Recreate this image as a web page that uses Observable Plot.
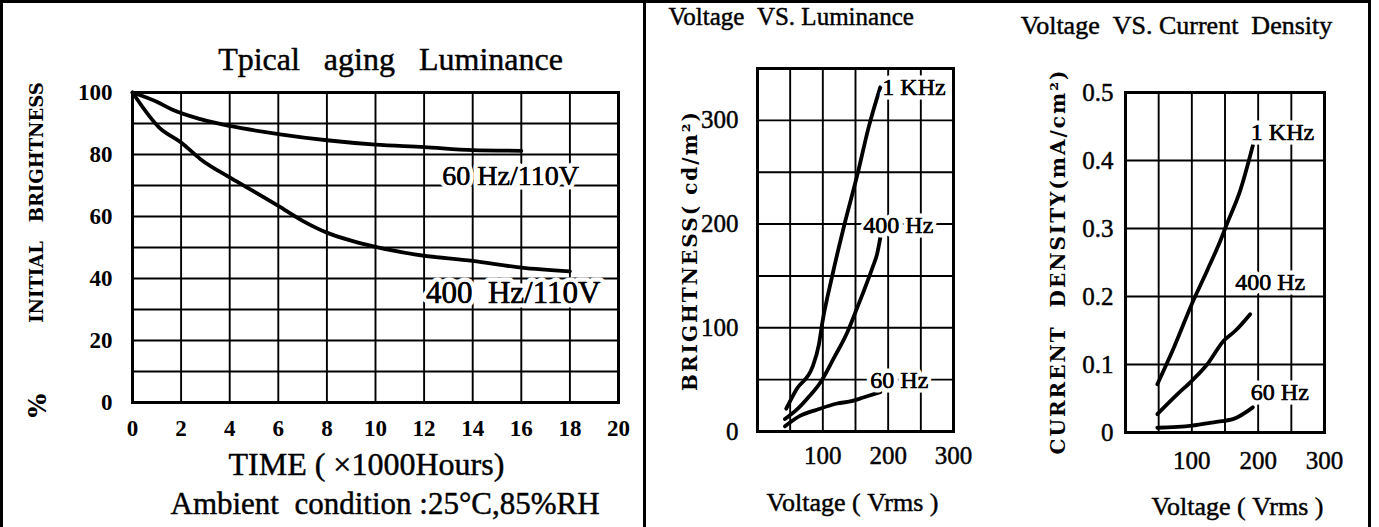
<!DOCTYPE html>
<html><head><meta charset="utf-8">
<script src="https://cdn.jsdelivr.net/npm/d3@7"></script>
<script src="https://cdn.jsdelivr.net/npm/@observablehq/plot@0.6"></script>
<style>
html,body{margin:0;padding:0;background:#fff;}
#root{position:relative;width:1379px;height:527px;overflow:hidden;background:#fff;}
#root svg{position:absolute;top:0;overflow:visible;}
.border{position:absolute;left:0;top:0;width:1371px;height:540px;border:3px solid #000;box-sizing:border-box;}
.divider{position:absolute;left:643px;top:0;width:3px;height:527px;background:#000;}
</style></head><body>
<div id="root"><div class="border"></div><div class="divider"></div></div>
<script>
// ---------- Panel 1: Typical aging luminance ----------
const agingTimeTicks = [0, 2, 4, 6, 8, 10, 12, 14, 16, 18, 20];
const agingBrightTicks = [0, 20, 40, 60, 80, 100];
const aging60Hz = [[0,100],[1,97],[1.6,94.6],[2.8,91.4],[4,89.2],[6,86.6],[8,84.6],[10,83.2],[12,82.4],[14,81.4],[16,81.2]];
const aging400Hz = [[0,100],[1.1,88.7],[2,83.9],[2.8,78.5],[4,72.6],[4.7,69.4],[6,63.4],[7,58.6],[8,54.8],[9,52.2],[10,50.2],[11.6,47.8],[14,45.7],[16,43.5],[18,42.3]];
const agingLabels = ["60\u00a0Hz/110V", "400\u00a0\u00a0Hz/110V"];

// ---------- Panel 2: Voltage vs Luminance ----------
const voltTicks = [100, 200, 300];
const lumTicks = [0, 100, 200, 300];
const lum1kHz = [[44,22],[60,41],[84,62],[94,84],[99,104],[114,149],[132,197],[153,248],[170,293],[188,332]];
const lum400Hz = [[42,12],[60,21],[78,33],[96,47],[117,71],[137,95],[153,120],[163,136],[176,158],[183,171],[188,187]];
const lum60Hz = [[42,5],[65,15],[91,21],[122,27],[142,29],[163,33],[188,38]];

// ---------- Panel 3: Voltage vs Current density ----------
const cdTicks = [0, 0.1, 0.2, 0.3, 0.4, 0.5];
const cd1kHz = [[48,0.071],[73,0.125],[100,0.189],[123,0.238],[143,0.282],[153,0.307],[173,0.356],[192,0.422]];
const cd400Hz = [[48,0.027],[78,0.056],[100,0.076],[123,0.1],[148,0.135],[166,0.15],[188,0.174]];
const cd60Hz = [[48,0.007],[100,0.01],[133,0.015],[163,0.02],[192,0.037]];
const freqLabels = ["1 KHz", "400 Hz", "60 Hz"];

const SERIF = "'Liberation Serif', 'Times New Roman', serif";
const SLAB = "'DejaVu Serif', serif";
const ink = "#000";
const heavy = {fill: ink, stroke: ink, strokeWidth: 0.45};
const halo = {fill: ink, stroke: "#fff", strokeWidth: 9, strokeLinejoin: "round"};

function note(str, dx, dy, o = {}) {
  return Plot.text([str], {text: d => d, frameAnchor: "top-left", lineAnchor: "middle", dx, dy, fontFamily: SERIF, ...o});
}
const xy = {x: d => d[0], y: d => d[1]};
const curve = (data) => Plot.line(data, {...xy, stroke: ink, strokeWidth: 3.8, curve: "monotone-x"});
const gridStyle = {stroke: ink, strokeOpacity: 1, strokeWidth: 1.9};
function endLabel(series, str, dx, dy, o) {
  const last = [series[series.length - 1]];
  return [
    Plot.text(last, {...xy, text: () => str, dx, dy, textAnchor: "start", lineAnchor: "middle", fontFamily: SERIF, ...o, ...halo}),
    Plot.text(last, {...xy, text: () => str, dx, dy, textAnchor: "start", lineAnchor: "middle", fontFamily: SERIF, ...o, ...heavy})
  ];
}

const root = document.getElementById("root");
function place(svg, left) { svg.style.left = left + "px"; root.appendChild(svg); return svg; }
function spacing(svg, str, ls) {
  svg.querySelectorAll("text").forEach(t => { if (t.textContent === str) t.setAttribute("letter-spacing", ls); });
}
const baseStyle = {background: "transparent", overflow: "visible", fontFamily: SERIF};

// Panel 1
const p1 = Plot.plot({
  width: 645, height: 527, marginLeft: 132, marginRight: 27, marginTop: 92, marginBottom: 125,
  x: {domain: [0, 20], axis: null}, y: {domain: [0, 100], axis: null},
  style: baseStyle,
  marks: [
    Plot.gridX(agingTimeTicks, gridStyle),
    Plot.gridY(d3.range(0, 101, 10), gridStyle),
    Plot.frame({stroke: ink, strokeWidth: 3}),
    curve(aging60Hz),
    curve(aging400Hz),
    ...endLabel(aging60Hz, agingLabels[0], -79, 25, {fontSize: 28}),
    ...endLabel(aging400Hz, agingLabels[1], -144, 22, {fontSize: 31}),
    Plot.text(agingTimeTicks, {x: d => d, frameAnchor: "bottom", lineAnchor: "middle", dy: 26, text: d => String(d), fontSize: 23, fontWeight: "bold", fontFamily: SERIF}),
    Plot.text(agingBrightTicks, {y: d => d, frameAnchor: "left", lineAnchor: "middle", dx: -20, textAnchor: "end", text: d => String(d), fontSize: 23, fontWeight: "bold", fontFamily: SERIF}),
    note("Tpical\u00a0\u00a0\u00a0aging\u00a0\u00a0\u00a0Luminance", 258, -33, {fontSize: 32, textAnchor: "middle", ...heavy}),
    note("INITIAL\u00a0\u00a0\u00a0BRIGHTNESS", -95, 110, {rotate: -90, fontSize: 18, fontWeight: "bold", fontFamily: SLAB, textAnchor: "middle"}),
    note("%", -95, 313, {rotate: -90, fontSize: 25, fontWeight: "bold", fontFamily: SLAB, textAnchor: "middle"}),
    note("TIME\u00a0(\u00a0\u00d71000Hours)", 96, 372, {fontSize: 32, textAnchor: "start", ...heavy}),
    note("Ambient\u00a0\u00a0condition\u00a0:25\u00b0C,85%RH", 38, 412, {fontSize: 31, textAnchor: "start", ...heavy})
  ]
});
place(p1, 0);

// Panel 2
const p2 = Plot.plot({
  width: 370, height: 527, marginLeft: 112, marginRight: 62, marginTop: 68, marginBottom: 96,
  x: {domain: [0, 300], axis: null}, y: {domain: [0, 350], axis: null},
  style: baseStyle,
  marks: [
    Plot.gridX(d3.range(0, 301, 50), gridStyle),
    Plot.gridY(d3.range(0, 351, 50), gridStyle),
    Plot.frame({stroke: ink, strokeWidth: 3}),
    curve(lum1kHz), curve(lum400Hz), curve(lum60Hz),
    ...endLabel(lum1kHz, freqLabels[0], 2, 0, {fontSize: 24}),
    ...endLabel(lum400Hz, freqLabels[1], -17, -12, {fontSize: 24}),
    ...endLabel(lum60Hz, freqLabels[2], -10, -12, {fontSize: 24}),
    Plot.text(voltTicks, {x: d => d, frameAnchor: "bottom", lineAnchor: "middle", dy: 24, text: d => String(d), fontSize: 25, fontFamily: SERIF, ...heavy}),
    Plot.text(lumTicks, {y: d => d, frameAnchor: "left", lineAnchor: "middle", dx: -19, textAnchor: "end", text: d => String(d), fontSize: 25, fontFamily: SERIF, ...heavy}),
    note("Voltage\u00a0\u00a0VS.\u00a0Luminance", -89, -52, {fontSize: 25, textAnchor: "start", ...heavy}),
    note("BRIGHTNESS(\u00a0cd/m\u00b2)", -67, 182, {rotate: -90, fontSize: 20, fontWeight: "bold", fontFamily: SLAB, textAnchor: "middle"}),
    note("Voltage\u00a0(\u00a0Vrms\u00a0)", 95, 434, {fontSize: 26, textAnchor: "middle", ...heavy})
  ]
});
place(p2, 645);
spacing(p2, "BRIGHTNESS(\u00a0cd/m\u00b2)", 2);

// Panel 3
const p3 = Plot.plot({
  width: 364, height: 527, marginLeft: 110, marginRight: 55, marginTop: 92, marginBottom: 95,
  x: {domain: [0, 300], axis: null}, y: {domain: [0, 0.5], axis: null},
  style: baseStyle,
  marks: [
    Plot.gridX(d3.range(0, 301, 50), gridStyle),
    Plot.gridY(cdTicks, gridStyle),
    Plot.frame({stroke: ink, strokeWidth: 3}),
    curve(cd1kHz), curve(cd400Hz), curve(cd60Hz),
    ...endLabel(cd1kHz, freqLabels[0], -2, -13, {fontSize: 24}),
    ...endLabel(cd400Hz, freqLabels[1], -15, -32, {fontSize: 24}),
    ...endLabel(cd60Hz, freqLabels[2], -2, -15, {fontSize: 24}),
    Plot.text(voltTicks, {x: d => d, frameAnchor: "bottom", lineAnchor: "middle", dy: 28, text: d => String(d), fontSize: 25, fontFamily: SERIF, ...heavy}),
    Plot.text(cdTicks, {y: d => d, frameAnchor: "left", lineAnchor: "middle", dx: -12, textAnchor: "end", text: d => d === 0 ? "0" : d.toFixed(1), fontSize: 25, fontFamily: SERIF, ...heavy}),
    note("Voltage\u00a0\u00a0VS.\u00a0Current\u00a0\u00a0Density", 51, -67, {fontSize: 26, textAnchor: "middle", ...heavy}),
    note("CURRENT\u00a0\u00a0DENSITY(mA/cm\u00b2)", -67, 169, {rotate: -90, fontSize: 20, fontWeight: "bold", fontFamily: SLAB, textAnchor: "middle"}),
    note("Voltage\u00a0(\u00a0Vrms\u00a0)", 112, 414, {fontSize: 26, textAnchor: "middle", ...heavy})
  ]
});
place(p3, 1015);
spacing(p3, "CURRENT\u00a0\u00a0DENSITY(mA/cm\u00b2)", 2);
</script>
</body></html>
